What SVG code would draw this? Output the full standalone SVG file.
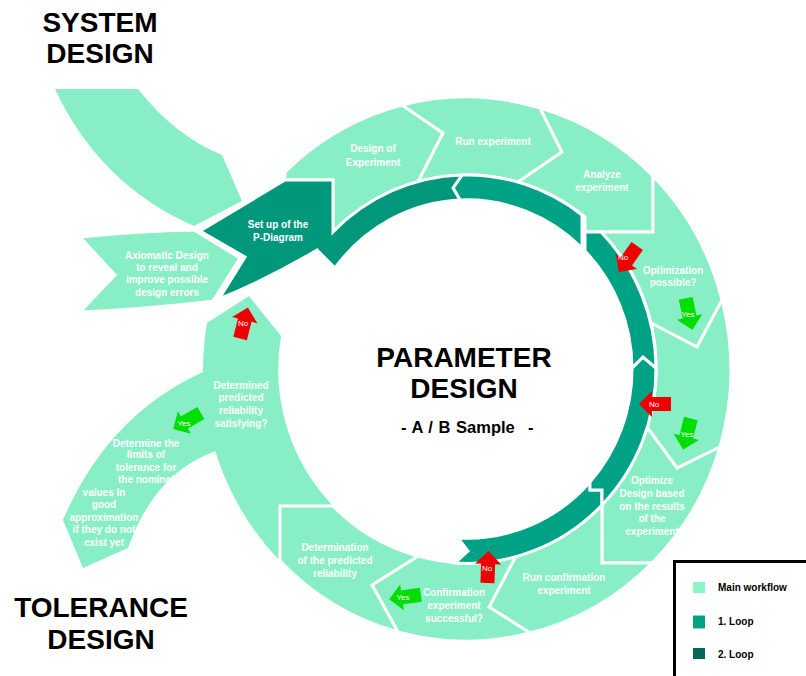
<svg xmlns="http://www.w3.org/2000/svg" width="806" height="676" viewBox="0 0 806 676">
<defs>
<style>
.lt{fill:#87EEC5;stroke:#fff;stroke-width:3;stroke-linejoin:miter;stroke-miterlimit:4}
.ltn{fill:#87EEC5}
.dk{fill:#00A285;stroke:#fff;stroke-width:3;stroke-linejoin:miter}
.pd{fill:#00977B;stroke:#fff;stroke-width:3;stroke-linejoin:miter}
.t{font-family:"Liberation Sans",Arial,sans-serif;font-weight:bold;font-size:10px;fill:#fff;text-anchor:middle}
.big{font-family:"Liberation Sans",Arial,sans-serif;font-weight:bold;font-size:28px;fill:#000;text-anchor:middle}
.sub{font-family:"Liberation Sans",Arial,sans-serif;font-weight:bold;font-size:16.5px;fill:#000}
.at{font-family:"Liberation Sans",Arial,sans-serif;font-size:8px;fill:#fff;text-anchor:middle}
.red{fill:#EE0000}
.grn{fill:#00DD00}
.lg{font-family:"Liberation Sans",Arial,sans-serif;font-weight:bold;font-size:10px;fill:#000}
</style>
<path id="arr" d="M-16,-7 L3,-7 L3,-13 L16,0 L3,13 L3,7 L-16,7 Z"/>
</defs>
<rect width="806" height="676" fill="#fff"/>

<g id="titles">
<text class="big" x="100" y="32">SYSTEM</text>
<text class="big" x="100" y="63">DESIGN</text>
<text class="big" x="101" y="617">TOLERANCE</text>
<text class="big" x="101" y="649">DESIGN</text>
<text class="big" x="464" y="367">PARAMETER</text>
<text class="big" x="464" y="398">DESIGN</text>
<text class="sub" x="401" y="433" style="word-spacing:1px">- A / B Sample<tspan x="528">-</tspan></text>
</g>

<g id="n-system-design">
<path class="ltn" d="M55,89 L138,89 Q175,136 222,155 L242,201 L194,226 Q100,185 55,89 Z"/>
</g>

<g id="n-axiomatic">
<path class="lt" d="M80,237 Q140,231 194,230 L240,258 L213,301 Q150,309 80,312 L115,275 Z"/>
<text class="t" x="167" y="258.5">Axiomatic Design</text>
<text class="t" x="167" y="270.5">to reveal and</text>
<text class="t" x="167" y="282.5">improve possible</text>
<text class="t" x="167" y="295.5">design errors</text>
</g>

<g id="n-tolerance">
<path class="ltn" d="M203,372 Q108,415 63,520 L83,568 L128,548 Q155,472 216,451 L226,420 Z"/>
<text class="t" x="146" y="446.5">Determine the</text>
<text class="t" x="146" y="458">limits of</text>
<text class="t" x="146" y="470.5">tolerance for</text>
<text class="t" x="146" y="482.5">the nominal</text>
<text class="t" x="104" y="495.5">values In</text>
<text class="t" x="104" y="507.5">good</text>
<text class="t" x="104" y="520.5">approximation</text>
<text class="t" x="104" y="532.5">if they do not</text>
<text class="t" x="104" y="545.5">exist yet</text>
</g>

<g id="n-satisfying">
<path class="ltn" d="M280,561 A264 272 0 0 1 203,373 A264 272 0 0 1 207,323 L249,296 L281,336 A189 194 0 0 0 333,506 L280,506 Z"/>
<text class="t" x="241" y="388.5">Determined</text>
<text class="t" x="241" y="400.5">predicted</text>
<text class="t" x="241" y="413.5">reliability</text>
<text class="t" x="241" y="426.5">satisfying?</text>
</g>

<g id="n-doe">
<path class="lt" d="M285,172 A264 272 0 0 1 402,105 L443,133 L418,182 A189 194 0 0 0 333,232 L333,180 L285,180 Z"/>
<text class="t" x="373" y="151.5">Design of</text>
<text class="t" x="373" y="165.5">Experiment</text>
</g>

<g id="n-run">
<path class="lt" d="M402,105 A264 272 0 0 1 540,108 L562,152 L518,182 A189 194 0 0 0 418,182 L443,133 Z"/>
<text class="t" x="493" y="144.5">Run experiment</text>
</g>

<g id="n-analyze">
<path class="lt" d="M540,108 A264 272 0 0 1 653,176 L653,232 L585,232 L585,217 A189 194 0 0 0 518,182 L562,152 Z"/>
<text class="t" x="602" y="177.5">Analyze</text>
<text class="t" x="602" y="190.5">experiment</text>
</g>

<g id="n-optpossible">
<path class="lt" d="M653,176 A264 272 0 0 1 722,300 L697,347 L651,323 A189 194 0 0 0 601,232 L653,232 Z"/>
<text class="t" x="673" y="273.5">Optimization</text>
<text class="t" x="673" y="285.5">possible?</text>
</g>

<g id="n-mid">
<path class="lt" d="M722,300 A264 272 0 0 1 720,447 L677,468 L647,427 A189 194 0 0 0 651,323 L697,347 Z"/>
</g>

<g id="n-optdesign">
<path class="lt" d="M720,447 A264 272 0 0 1 652,563 L602,563 L602,505 A189 194 0 0 0 647,427 L677,468 Z"/>
<text class="t" x="652" y="483.5">Optimize</text>
<text class="t" x="652" y="496.5">Design based</text>
<text class="t" x="652" y="509.5">on the results</text>
<text class="t" x="652" y="521.5">of the</text>
<text class="t" x="652" y="534.5">experiment</text>
</g>

<g id="n-runconf">
<path class="lt" d="M652,563 A264 272 0 0 1 530,633 L489,607 L516,556 A189 194 0 0 0 602,505 L602,563 Z"/>
<text class="t" x="564" y="580.5">Run confirmation</text>
<text class="t" x="564" y="593.5">experiment</text>
</g>

<g id="n-confirm">
<path class="lt" d="M530,633 A264 272 0 0 1 398,632 L372,585 L418,556 A189 194 0 0 0 516,556 L489,607 Z"/>
<text class="t" x="454" y="595.5">Confirmation</text>
<text class="t" x="454" y="609">experiment</text>
<text class="t" x="454" y="621.5">successful?</text>
</g>

<g id="n-determination">
<path class="lt" d="M398,632 A264 272 0 0 1 280,561 L280,506 L333,506 A189 194 0 0 0 418,556 L372,585 Z"/>
<text class="t" x="335" y="550.5">Determination</text>
<text class="t" x="335" y="563.5">of the predicted</text>
<text class="t" x="335" y="576.5">reliability</text>
</g>

<g id="n-loop">
<path class="dk" d="M458,538 L468,551 L455,563 A189 194 0 0 0 602,505 L602,490 L590,490 L590,482 A165 169 0 0 1 458,538 Z"/>
<path class="dk" d="M632,368 L643,357 L656,368 A189 194 0 0 1 602,505 L602,490 L590,490 L590,482 A165 169 0 0 0 632,368 Z"/>
<path class="dk" d="M601,232 A189 194 0 0 1 656,368 L643,357 L632,368 A165 169 0 0 0 585,251 L585,232 Z"/>
<path class="dk" d="M582,215 A189 194 0 0 0 462,175 L453,188 L460,200 A165 169 0 0 1 582,248 Z"/>
</g>

<g id="n-pdiagram">
<path class="pd" d="M200,231 L285,180 L333,180 L333,232 A189 194 0 0 1 462,175 L453,188 L460,200 A165 169 0 0 0 335,268 L317,250 Q270,278 219,299 L245,257 Z"/>
<text class="t" x="278" y="227.5">Set up of the</text>
<text class="t" x="278" y="240.5">P-Diagram</text>
</g>

<g id="connectors">
<use href="#arr" class="red" transform="translate(628,259) rotate(125)"/>
<text class="at" x="623" y="260">No</text>
<use href="#arr" class="red" transform="translate(655,404) rotate(180)"/>
<text class="at" x="654" y="407">No</text>
<use href="#arr" class="red" transform="translate(488,567) rotate(-88)"/>
<text class="at" x="487" y="571">No</text>
<use href="#arr" class="red" transform="translate(244,323) rotate(-76)"/>
<text class="at" x="243" y="326">No</text>
<use href="#arr" class="grn" transform="translate(689,314) rotate(78)"/>
<text class="at" x="688" y="317">Yes</text>
<use href="#arr" class="grn" transform="translate(687,434) rotate(104)"/>
<text class="at" x="687" y="437">Yes</text>
<use href="#arr" class="grn" transform="translate(405,597) rotate(172)"/>
<text class="at" x="403" y="600">Yes</text>
<use href="#arr" class="grn" transform="translate(187,421) rotate(150)"/>
<text class="at" x="184" y="426">Yes</text>
</g>

<g id="legend">
<rect x="674.5" y="561.5" width="140" height="120" fill="#fff" stroke="#000" stroke-width="3"/>
<rect x="693" y="582" width="12" height="11" fill="#8EF3C9"/>
<text class="lg" x="718" y="591">Main workflow</text>
<rect x="693" y="615" width="12" height="14" fill="#00A285"/>
<line x1="693" y1="615.5" x2="705" y2="615.5" stroke="#86D8C6" stroke-width="1"/>
<line x1="693" y1="628.5" x2="705" y2="628.5" stroke="#86D8C6" stroke-width="1"/>
<text class="lg" x="718" y="625">1. Loop</text>
<rect x="693" y="648" width="12" height="11" fill="#006A56"/>
<text class="lg" x="718" y="658">2. Loop</text>
</g>
</svg>
